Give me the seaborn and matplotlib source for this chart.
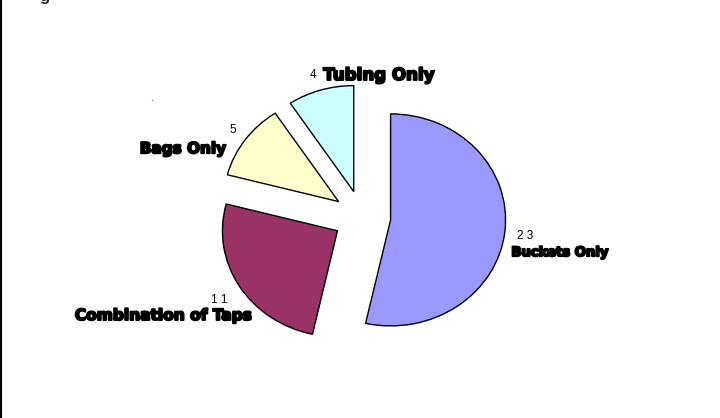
import numpy as np
import seaborn as sns
import matplotlib.pyplot as plt
import matplotlib.patheffects as pe
from matplotlib.lines import Line2D

sns.set_style("white")
plt.rcParams["font.family"] = ["Liberation Sans", "DejaVu Sans"]

categories = ["Buckets Only", "Combination of Taps", "Bags Only", "Tubing Only"]
counts = [23, 11, 5, 4]
colors = ["#9999FF", "#993366", "#FFFFCC", "#CCFFFF"]
explode = [0.25, 0.25, 0.25, 0.25]

# label layout: (ha, name offset px, number offset px, name size)
label_style = {
    "Buckets Only": ("left", (-5, 20), (9, 3), 9.5),
    "Combination of Taps": ("right", (22, 24), (-10, 8), 11.1),
    "Bags Only": ("right", (-10, 15), (-3, -4), 11),
    "Tubing Only": ("left", (6, -5), (-4, -5), 12),
}

fig = plt.figure(figsize=(7.2, 4.18), dpi=100)
ax = fig.add_axes([0, 0, 1, 1])

wedges, _ = ax.pie(
    counts,
    colors=colors,
    explode=explode,
    startangle=90,
    counterclock=False,
    wedgeprops={"edgecolor": "black", "linewidth": 1.0},
)

# pie centre at pixel (362, 217); radius 115 px wide, 106 px tall
cx, cy, rx, ry = 362, 217, 115, 106
ax.set_aspect("auto")
ax.set_xlim(-cx / rx, (720 - cx) / rx)
ax.set_ylim(-(418 - cy) / ry, cy / ry)
ax.axis("off")

total = sum(counts)
start = 90.0
stroke = [pe.withStroke(linewidth=1.4, foreground="black")]
for cat, n, ex in zip(categories, counts, explode):
    span = 360.0 * n / total
    mid = np.deg2rad(start - span / 2)
    start -= span
    r = 1 + ex + 0.1
    anchor = (r * np.cos(mid), r * np.sin(mid))
    ha, name_off, num_off, fs = label_style[cat]
    ax.annotate(
        cat, anchor, xytext=(name_off[0] * 0.72, -name_off[1] * 0.72),
        textcoords="offset points", ha=ha, va="center",
        fontsize=fs, fontweight="bold", color="black", path_effects=stroke,
        family="DejaVu Sans",
    )
    ax.annotate(
        " ".join(str(n)), anchor, xytext=(num_off[0] * 0.72, -num_off[1] * 0.72),
        textcoords="offset points", ha="center", va="center",
        fontsize=8.5, color="black", zorder=5,
    )

# stray marks from the original frame
fig.add_artist(Line2D([0.002, 0.002], [0, 1], color="black", linewidth=1.5))
fig.text(0.062, 1.008, "g", fontsize=12, fontweight="bold", ha="center", va="center")
fig.text(0.211, 0.765, ".", fontsize=7, ha="center", va="center")

fig.savefig("out.png", dpi=100)
